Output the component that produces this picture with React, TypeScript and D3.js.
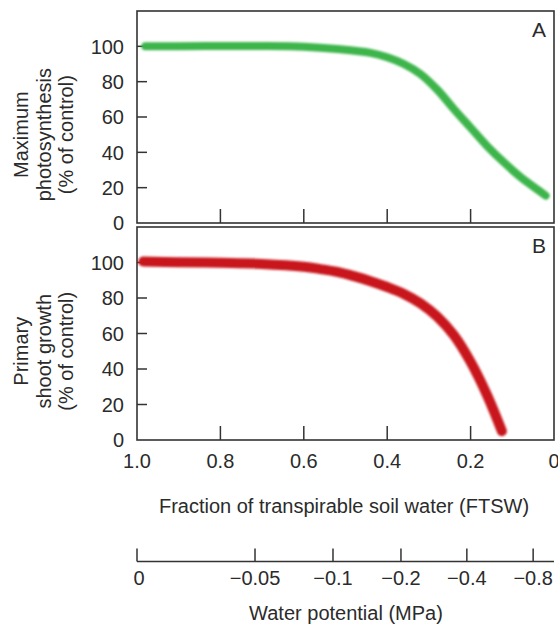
import React from "react";
import * as d3 from "d3";

// ---- data ----
const xTicks = [1.0, 0.8, 0.6, 0.4, 0.2, 0];
const xTickLabels = ["1.0", "0.8", "0.6", "0.4", "0.2", "0"];
const yTicks = [0, 20, 40, 60, 80, 100];

const photoFTSW = [0.98, 0.9, 0.8, 0.7, 0.6, 0.52, 0.44, 0.4, 0.36, 0.32, 0.28, 0.24, 0.2, 0.16, 0.12, 0.08, 0.04, 0.02];
const photoValues = [100, 100, 100.2, 100.2, 99.8, 98.5, 96.3, 93.8, 90, 84.3, 75.5, 64.5, 54, 43.5, 34.3, 26, 19, 15.5];

const shootFTSW = [0.985, 0.9, 0.8, 0.7, 0.6, 0.56, 0.52, 0.48, 0.44, 0.4, 0.36, 0.32, 0.28, 0.24, 0.2, 0.16, 0.125];
const shootValues = [100.5, 100.2, 99.8, 99.2, 97.6, 96.3, 94.7, 92.3, 89.5, 86.2, 82.3, 77, 69.5, 59, 44, 25, 5];

const wpPositions = [1.0, 0.717, 0.53, 0.367, 0.209, 0.05]; // FTSW positions
const wpLabels = ["0", "\u22120.05", "\u22120.1", "\u22120.2", "\u22120.4", "\u22120.8"];

const FONT = "'Liberation Sans', Arial, Helvetica, sans-serif";
const TEXT = "#2b2b2b";
const AXIS = "#333";

export default function App() {
  const W = 558, H = 625;
  const left = 137, right = 554;
  const x = d3.scaleLinear().domain([1, 0]).range([left, right]);

  const panels = [
    { top: 11, bottom: 223, letter: "A", title: ["Maximum", "photosynthesis", "(% of control)"], xs: photoFTSW, ys: photoValues, color: "#3db54c", width: 8, blur: 1.2, id: "g" },
    { top: 227, bottom: 440, letter: "B", title: ["Primary", "shoot growth", "(% of control)"], xs: shootFTSW, ys: shootValues, color: "#c8161e", width: 10, blur: 1.2, id: "r" },
  ];

  const wpY = 561.5;

  return (
    <svg width={W} height={H} style={{ position: "absolute", left: 0, top: 0, background: "#fff" }} fontFamily={FONT}>
      <defs>
        {panels.map((p) => (
          <filter key={p.id} id={"blur" + p.id} x="-5%" y="-20%" width="110%" height="140%">
            <feGaussianBlur stdDeviation={p.blur} />
          </filter>
        ))}
      </defs>
      {panels.map((p) => {
        const y = d3.scaleLinear().domain([0, 120]).range([p.bottom, p.top]);
        const line = d3
          .line<number>()
          .x((_, i) => x(p.xs[i]))
          .y((d) => y(d))
          .curve(d3.curveCatmullRom.alpha(0.5));
        const yMid = (y(0) + y(100)) / 2;
        return (
          <g key={p.id}>
            <rect x={left} y={p.top} width={right - left} height={p.bottom - p.top} fill="none" stroke={AXIS} strokeWidth={1.6} />
            {yTicks.filter((t) => t > 0).map((t) => (
              <line key={t} x1={left} x2={left + 10} y1={y(t)} y2={y(t)} stroke={AXIS} strokeWidth={1.5} />
            ))}
            {xTicks.filter((t) => t > 0 && t < 1).map((t) => (
              <line key={t} x1={x(t)} x2={x(t)} y1={p.bottom} y2={p.bottom - 14} stroke={AXIS} strokeWidth={1.5} />
            ))}
            {yTicks.map((t) => (
              <text key={t} x={124} y={y(t)} dy="0.36em" textAnchor="end" fontSize={20} fill={TEXT}>
                {t}
              </text>
            ))}
            <text x={546} y={p.top + 26} textAnchor="end" fontSize={21} fill={TEXT}>
              {p.letter}
            </text>
            <g transform={`translate(0,${yMid}) rotate(-90)`}>
              {p.title.map((s, i) => (
                <text key={i} x={0} y={28 + i * 22.5} textAnchor="middle" fontSize={20} fill={TEXT}>
                  {s}
                </text>
              ))}
            </g>
            <path d={line(p.ys) || ""} fill="none" stroke={p.color} strokeWidth={p.width} strokeLinecap="round" strokeLinejoin="round" filter={`url(#blur${p.id})`} />
          </g>
        );
      })}
      {xTicks.map((t, i) => (
        <text key={t} x={x(t)} y={468} textAnchor="middle" fontSize={20} fill={TEXT}>
          {xTickLabels[i]}
        </text>
      ))}
      <text x={344} y={513} textAnchor="middle" fontSize={20} fill={TEXT}>
        Fraction of transpirable soil water (FTSW)
      </text>
      <line x1={x(1)} x2={right} y1={wpY} y2={wpY} stroke={AXIS} strokeWidth={1.5} />
      {wpPositions.map((t, i) => (
        <g key={i}>
          <line x1={x(t)} x2={x(t)} y1={wpY} y2={wpY - 13} stroke={AXIS} strokeWidth={1.5} />
          <text x={x(t) + (i === 0 ? 2 : 0)} y={585} textAnchor="middle" fontSize={20} fill={TEXT}>
            {wpLabels[i]}
          </text>
        </g>
      ))}
      <text x={346} y={620} textAnchor="middle" fontSize={20} fill={TEXT}>
        Water potential (MPa)
      </text>
    </svg>
  );
}
